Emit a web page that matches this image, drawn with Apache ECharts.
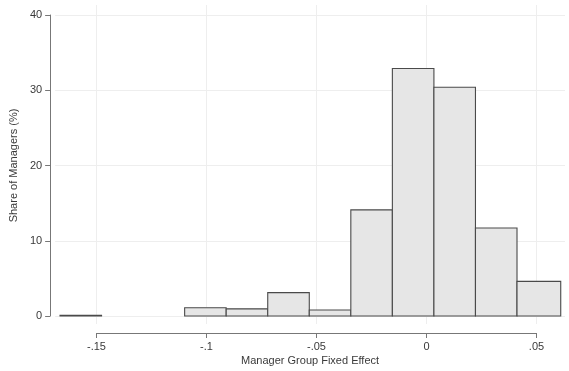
<!DOCTYPE html>
<html>
<head>
<meta charset="utf-8">
<script src="https://cdn.jsdelivr.net/npm/echarts@6/dist/echarts.min.js"></script>
<style>
  html, body { margin: 0; padding: 0; background: #fff; }
  #chart { width: 569px; height: 371px; }
</style>
</head>
<body>
<div id="chart"></div>
<script>
// histogram bins (left/right edges) and share of managers in each bin (%)
const binLeft  = [-0.168, -0.149, -0.130, -0.111, -0.092, -0.073, -0.054, -0.035, -0.016, 0.003, 0.022, 0.041];
const binRight = [-0.149, -0.130, -0.111, -0.092, -0.073, -0.054, -0.035, -0.016, 0.003, 0.022, 0.041, 0.061];
const shares   = [0.1, 0, 0, 1.1, 0.95, 3.1, 0.8, 14.1, 32.9, 30.4, 11.7, 4.6];

const xTickValues = [-0.15, -0.1, -0.05, 0, 0.05];
const xTickLabels = ["-.15", "-.1", "-.05", "0", ".05"];
const yTicks = [0, 10, 20, 30, 40];

const textColor = "#3a3a3a";
const font = "Liberation Sans, Arial, sans-serif";

const chart = echarts.init(document.getElementById("chart"));

const data = shares.map((s, i) => [binLeft[i], binRight[i], s]);

chart.setOption({
  animation: false,
  grid: [
    // plot region for the bars + horizontal grid
    { left: 52, right: 4, top: 15, bottom: 47 },
    // shorter region that carries the visible x axis (-.15 to .05)
    { left: 96.5, right: 32.5, top: 5, bottom: 47 }
  ],
  xAxis: [
    {
      gridIndex: 0,
      type: "value",
      min: -0.17023,
      max: 0.06295,
      axisLine: { show: false, onZero: false },
      axisTick: { show: false },
      axisLabel: { show: false },
      splitLine: { show: false },
      name: "Manager Group Fixed Effect",
      nameLocation: "middle",
      nameGap: 39,
      nameTextStyle: { color: textColor, fontSize: 11, fontFamily: font }
    },
    {
      gridIndex: 1,
      type: "value",
      min: xTickValues[0],
      max: xTickValues[xTickValues.length - 1],
      interval: 0.05,
      offset: 9,
      axisLine: { show: true, onZero: false, lineStyle: { color: "#777", width: 1 } },
      axisTick: { show: true, length: 5, lineStyle: { color: "#777" } },
      axisLabel: {
        color: textColor,
        fontSize: 11,
        fontFamily: font,
        margin: 8,
        formatter: (v) => {
          const i = xTickValues.findIndex((t) => Math.abs(t - v) < 1e-9);
          return i >= 0 ? xTickLabels[i] : "";
        }
      },
      splitLine: { show: true, lineStyle: { color: "#eeeeee", width: 1 } }
    }
  ],
  yAxis: [
    {
      gridIndex: 0,
      type: "value",
      min: yTicks[0],
      max: yTicks[yTicks.length - 1],
      interval: 10,
      offset: 5,
      axisLine: { show: true, onZero: false, lineStyle: { color: "#777", width: 1 } },
      axisTick: { show: true, length: 5, lineStyle: { color: "#777" } },
      axisLabel: { color: textColor, fontSize: 11, fontFamily: font, margin: 8 },
      splitLine: { show: true, lineStyle: { color: "#eeeeee", width: 1 } },
      name: "Share of Managers (%)",
      nameLocation: "middle",
      nameGap: 26,
      nameTextStyle: { color: textColor, fontSize: 11, fontFamily: font }
    },
    {
      gridIndex: 1,
      type: "value",
      min: 0,
      max: 41,
      show: false
    }
  ],
  series: [
    {
      type: "custom",
      xAxisIndex: 0,
      yAxisIndex: 0,
      data: data,
      renderItem: (params, api) => {
        if (api.value(2) <= 0) return null;
        const p0 = api.coord([api.value(0), api.value(2)]);
        const p1 = api.coord([api.value(1), 0]);
        return {
          type: "rect",
          shape: { x: p0[0], y: p0[1], width: p1[0] - p0[0], height: p1[1] - p0[1] },
          style: { fill: "#e6e6e6", stroke: "#4a4a4a", lineWidth: 1.1 }
        };
      }
    }
  ]
});
</script>
</body>
</html>
